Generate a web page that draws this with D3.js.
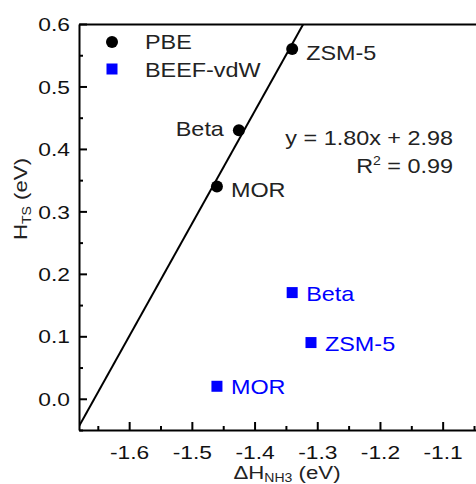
<!DOCTYPE html>
<html>
<head>
<meta charset="utf-8">
<script src="https://cdn.jsdelivr.net/npm/d3@7"></script>
<style>
  body { margin: 0; background: #fff; }
  svg { display: block; font-family: "Liberation Sans", Arial, sans-serif; }
</style>
</head>
<body>
<div id="chart"></div>
<script>
// zeolites and their values
const zeolites = ["MOR", "Beta", "ZSM-5"];
const pbeDeltaH = [-1.46, -1.425, -1.34];
const pbeHts = [0.34, 0.43, 0.56];
const beefDeltaH = [-1.46, -1.34, -1.31];
const beefHts = [0.02, 0.17, 0.09];
const pbeLabelSide = ["right", "left", "right"];

const fitSlope = 1.80;
const fitIntercept = 2.98;
const fitR2 = 0.99;

const xTicks = [-1.6, -1.5, -1.4, -1.3, -1.2, -1.1];
const xMinorTicks = [-1.65, -1.55, -1.45, -1.35, -1.25, -1.15, -1.05];
const yTicks = [0.0, 0.1, 0.2, 0.3, 0.4, 0.5, 0.6];
const yMinorTicks = [-0.05, 0.05, 0.15, 0.25, 0.35, 0.45, 0.55];

const width = 476, height = 484;
const plotLeft = 79, plotTop = 24, plotBottom = 430;
const tickStretch = 1.2;    // the figure's text is wider than plain Arial
const textStretch = 1.17;

const svg = d3.select("#chart").append("svg")
    .attr("width", width)
    .attr("height", height);

const x = d3.scaleLinear().domain([-1.68, -1.0]).range([plotLeft, plotLeft + 0.68 * 627]);
const y = d3.scaleLinear().domain([-0.05, 0.6]).range([plotBottom, plotTop]);
const fmt = d => d3.format(".1f")(d).replace("\u2212", "-");

// text placed with a horizontal stretch
function label(parent, px, py, size, fill, anchor) {
    return parent.append("text")
        .attr("transform", `translate(${px},${py}) scale(${textStretch},1)`)
        .attr("text-anchor", anchor || "start")
        .style("font-size", size + "px")
        .style("fill", fill);
}

svg.append("clipPath").attr("id", "plot")
  .append("rect")
    .attr("x", plotLeft).attr("y", plotTop)
    .attr("width", x.range()[1] - plotLeft).attr("height", plotBottom - plotTop);

// regression line
const fitX = x.domain();
svg.append("line")
    .attr("clip-path", "url(#plot)")
    .attr("x1", x(fitX[0])).attr("y1", y(fitSlope * fitX[0] + fitIntercept))
    .attr("x2", x(fitX[1])).attr("y2", y(fitSlope * fitX[1] + fitIntercept))
    .style("stroke", "#000")
    .style("stroke-width", 2);

// axes
const xAxis = svg.append("g")
    .attr("transform", `translate(0,${plotBottom})`)
    .call(d3.axisBottom(x).tickValues(xTicks).tickSize(-8).tickSizeOuter(0).tickPadding(0).tickFormat(fmt));
xAxis.selectAll("text").attr("y", 16);

const xMinor = svg.append("g")
    .attr("transform", `translate(0,${plotBottom})`)
    .call(d3.axisBottom(x).tickValues(xMinorTicks).tickSize(-4).tickFormat(""));

const yAxis = svg.append("g")
    .attr("transform", `translate(${plotLeft},0)`)
    .call(d3.axisLeft(y).tickValues(yTicks).tickSize(-8).tickSizeOuter(0).tickPadding(9).tickFormat(fmt));
yAxis.selectAll("text").attr("x", -9 / tickStretch).attr("dy", "0.35em");

const yMinor = svg.append("g")
    .attr("transform", `translate(${plotLeft},0)`)
    .call(d3.axisLeft(y).tickValues(yMinorTicks).tickSize(-4).tickFormat(""));

svg.append("g")
    .attr("transform", `translate(0,${plotTop})`)
    .call(d3.axisTop(x).tickValues([]).tickSizeOuter(0));

svg.selectAll(".domain").style("stroke-width", 2);
svg.selectAll(".tick line").style("stroke-width", 2);
svg.selectAll(".tick text")
    .style("font-size", "19px")
    .style("fill", "#111")
    .attr("transform", `scale(${tickStretch},1)`);
xMinor.select(".domain").remove();
yMinor.select(".domain").remove();

// PBE points
svg.selectAll(".pbe")
    .data(zeolites)
    .enter().append("circle")
    .attr("class", "pbe")
    .attr("cx", (d, i) => x(pbeDeltaH[i]))
    .attr("cy", (d, i) => y(pbeHts[i]))
    .attr("r", 6)
    .style("fill", "#000");

zeolites.forEach((name, i) => {
    const leftSide = pbeLabelSide[i] === "left";
    label(svg, x(pbeDeltaH[i]) + (leftSide ? -15 : 14), y(pbeHts[i]) + (leftSide ? 6 : 11),
          20, "#222", leftSide ? "end" : "start").text(name);
});

// BEEF-vdW points
svg.selectAll(".beef")
    .data(zeolites)
    .enter().append("rect")
    .attr("class", "beef")
    .attr("x", (d, i) => x(beefDeltaH[i]) - 5.5)
    .attr("y", (d, i) => y(beefHts[i]) - 5.5)
    .attr("width", 11)
    .attr("height", 11)
    .style("fill", "#0000ff");

zeolites.forEach((name, i) => {
    label(svg, x(beefDeltaH[i]) + 14, y(beefHts[i]) + 8, 20, "#0000ff").text(name);
});

// legend
const legend = svg.append("g");
legend.append("circle").attr("cx", 112).attr("cy", 42).attr("r", 6).style("fill", "#000");
label(legend, 145, 49, 20, "#222").text("PBE");
legend.append("rect").attr("x", 106.5).attr("y", 63.5).attr("width", 11).attr("height", 11).style("fill", "#0000ff");
label(legend, 145, 77, 20, "#222").text("BEEF-vdW");

// fit equation
label(svg, 453, 145, 20, "#222", "end")
    .text(`y = ${d3.format(".2f")(fitSlope)}x + ${d3.format(".2f")(fitIntercept)}`);
const r2 = label(svg, 453, 173, 20, "#222", "end");
r2.append("tspan").text("R");
r2.append("tspan").attr("dy", -8).style("font-size", "12px").text("2");
r2.append("tspan").attr("dy", 8).text(` = ${d3.format(".2f")(fitR2)}`);

// axis titles
const yTitle = svg.append("text")
    .attr("transform", `translate(27,199) rotate(-90) scale(${textStretch},1)`)
    .attr("text-anchor", "middle")
    .style("font-size", "19px")
    .style("fill", "#222");
yTitle.append("tspan").text("H");
yTitle.append("tspan").attr("dy", 4).style("font-size", "12px").text("TS");
yTitle.append("tspan").attr("dy", -4).text(" (eV)");

const xTitle = label(svg, 287, 479, 19, "#222", "middle");
xTitle.append("tspan").text("\u0394H");
xTitle.append("tspan").attr("dy", 3).style("font-size", "12px").text("NH3");
xTitle.append("tspan").attr("dy", -3).text(" (eV)");
</script>
</body>
</html>
